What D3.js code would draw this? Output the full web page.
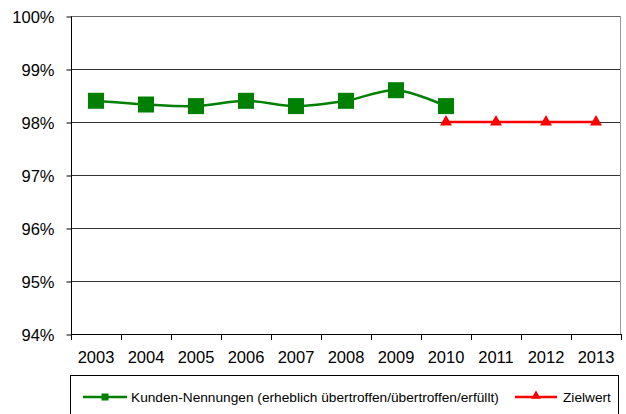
<!DOCTYPE html>
<html lang="de">
<head>
  <meta charset="UTF-8">
  <script src="https://d3js.org/d3.v7.min.js"></script>
  <title>Kunden-Nennungen</title>
  <style>
    body { margin: 0; background: #fff; }
    text { font-family: "Liberation Sans", Arial, sans-serif; fill: #000; }
  </style>
</head>
<body>
  <div class="chart"></div>
  <script>
    const years = ['2003', '2004', '2005', '2006', '2007', '2008', '2009', '2010', '2011', '2012', '2013'];
    const kundenYears = ['2003', '2004', '2005', '2006', '2007', '2008', '2009', '2010'];
    const kundenValues = [98.4, 98.33, 98.3, 98.4, 98.3, 98.4, 98.6, 98.3];
    const zielYears = ['2010', '2011', '2012', '2013'];
    const zielValues = [98, 98, 98, 98];
    const yTicks = [94, 95, 96, 97, 98, 99, 100];
    const seriesNames = ['Kunden-Nennungen (erheblich übertroffen/übertroffen/erfüllt)', 'Zielwert'];

    const width = 626, height = 414;
    const plotLeft = 71, plotRight = 621, plotTop = 16, plotBottom = 334;
    const axisFont = '16.5px';

    const svg = d3.select('.chart').append('svg').attr('width', width).attr('height', height);

    const x = d3.scaleBand().domain(years).range([plotLeft, plotRight]);
    const y = d3.scaleLinear().domain([94, 100]).range([plotBottom, plotTop]);
    const cx = d => x(d) + x.bandwidth() / 2;

    // gridlines
    svg.append('g').selectAll('line').data(yTicks.slice(1)).join('line')
      .attr('x1', plotLeft).attr('x2', plotRight)
      .attr('y1', d => y(d) + 0.5).attr('y2', d => y(d) + 0.5)
      .attr('stroke', d => d === 100 ? '#666' : '#333').attr('stroke-width', 1);
    svg.append('line').attr('x1', plotRight - 0.5).attr('x2', plotRight - 0.5).attr('y1', plotTop).attr('y2', plotBottom)
      .attr('stroke', '#999');

    // y axis
    const yAxis = svg.append('g').attr('transform', `translate(${plotLeft + 0.5},0.5)`)
      .call(d3.axisLeft(y).tickValues(yTicks).tickSize(5).tickFormat(d => d + '%'));
    yAxis.select('.domain').attr('stroke', '#000').attr('d', `M0,${plotTop}V${plotBottom}`);
    yAxis.selectAll('.tick line').attr('stroke', '#000');
    yAxis.selectAll('text').attr('x', -17).attr('dy', '0.36em').style('font-size', axisFont)
      .style('font-family', '"Liberation Sans", Arial, sans-serif');

    // x axis
    const xAxis = svg.append('g').attr('transform', `translate(0,${plotBottom + 0.5})`)
      .call(d3.axisBottom(x).tickSize(0));
    xAxis.select('.domain').attr('stroke', '#000').attr('d', `M${plotLeft},0H${plotRight}`);
    xAxis.selectAll('text').attr('y', 28).attr('dy', 0).style('font-size', axisFont)
      .style('font-family', '"Liberation Sans", Arial, sans-serif');
    svg.append('g').selectAll('line').data(years.map(d => x(d)).concat([plotRight])).join('line')
      .attr('x1', d => Math.round(d) + 0.5).attr('x2', d => Math.round(d) + 0.5)
      .attr('y1', plotBottom).attr('y2', plotBottom + 6).attr('stroke', '#000');

    // Kunden series
    const kunden = kundenYears.map((d, i) => [cx(d), y(kundenValues[i])]);
    svg.append('path').attr('d', d3.line().curve(d3.curveCatmullRom.alpha(0))(kunden))
      .attr('fill', 'none').attr('stroke', '#008000').attr('stroke-width', 2.5);
    svg.append('g').selectAll('rect').data(kunden).join('rect')
      .attr('x', d => d[0] - 8).attr('y', d => d[1] - 8).attr('width', 16).attr('height', 16)
      .attr('fill', '#008000');

    // Zielwert series
    const ziel = zielYears.map((d, i) => [cx(d), y(zielValues[i])]);
    svg.append('path').attr('d', d3.line()(ziel))
      .attr('fill', 'none').attr('stroke', '#ff0000').attr('stroke-width', 2.5);
    const tri = d3.symbol().type(d3.symbolTriangle).size(62);
    svg.append('g').selectAll('path').data(ziel).join('path')
      .attr('d', tri).attr('transform', d => `translate(${d[0]},${d[1]})`)
      .attr('fill', '#ff0000');

    // legend
    svg.append('rect').attr('x', 70.5).attr('y', 375.5).attr('width', 548).attr('height', 60)
      .attr('fill', 'none').attr('stroke', '#000');
    const ly = 397;
    svg.append('line').attr('x1', 83).attr('x2', 127).attr('y1', ly).attr('y2', ly)
      .attr('stroke', '#008000').attr('stroke-width', 2.5);
    svg.append('rect').attr('x', 101.5).attr('y', ly - 3.5).attr('width', 7).attr('height', 7).attr('fill', '#008000');
    svg.append('text').attr('x', 131).attr('y', ly).attr('dy', '0.36em').style('font-size', '13.7px').text(seriesNames[0]);
    svg.append('line').attr('x1', 515).attr('x2', 557).attr('y1', ly).attr('y2', ly)
      .attr('stroke', '#ff0000').attr('stroke-width', 2.5);
    svg.append('path').attr('d', d3.symbol().type(d3.symbolTriangle).size(40))
      .attr('transform', `translate(536,${ly - 1})`).attr('fill', '#ff0000');
    svg.append('text').attr('x', 563).attr('y', ly).attr('dy', '0.36em').style('font-size', '13.7px').text(seriesNames[1]);
  </script>
</body>
</html>
